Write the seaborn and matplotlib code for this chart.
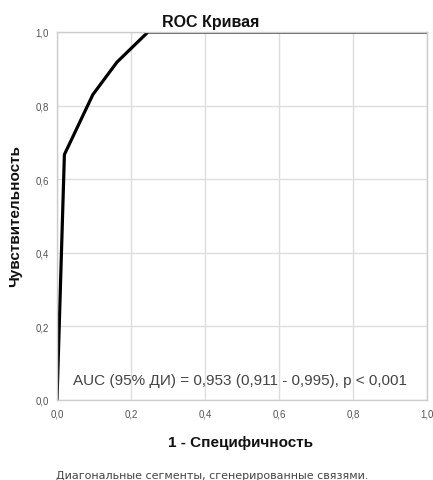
import matplotlib
matplotlib.use("Agg")
import matplotlib.pyplot as plt
import seaborn as sns
import pandas as pd

fpr = [0.0, 0.02, 0.097, 0.162, 0.246, 1.0]
tpr = [0.0, 0.667, 0.83, 0.918, 1.0, 1.0]
ticks = [0.0, 0.2, 0.4, 0.6, 0.8, 1.0]
tick_labels = ["0,0", "0,2", "0,4", "0,6", "0,8", "1,0"]
title = "ROC Кривая"
xlabel = "1 - Специфичность"
ylabel = "Чувствительность"
auc_text = "AUC (95% ДИ) = 0,953 (0,911 - 0,995), p < 0,001"
footnote = "Диагональные сегменты, сгенерированные связями."

sns.set_theme(style="white")
plt.rcParams['font.family'] = ['Liberation Sans', 'DejaVu Sans']

df = pd.DataFrame({"fpr": fpr, "tpr": tpr})

fig = plt.figure(figsize=(4.33, 4.81), dpi=100)
ax = fig.add_axes([57/433, 1-401/481, 370/433, 368/481])
sns.lineplot(data=df, x="fpr", y="tpr", ax=ax, color="black", linewidth=2.3,
             sort=False, estimator=None)
ax.set_xlim(0, 1)
ax.set_ylim(0, 1)
ax.set_xticks(ticks)
ax.set_yticks(ticks)
ax.set_xticklabels(tick_labels, fontsize=7, color="#555555")
ax.set_yticklabels(tick_labels, fontsize=7, color="#555555")
ax.tick_params(axis="x", length=0, pad=6)
ax.tick_params(axis="y", length=0, pad=6)
ax.grid(True, color="#dddddd", linewidth=1)
for s in ax.spines.values():
    s.set_color("#cccccc")
    s.set_linewidth(1)
ax.set_xlabel("")
ax.set_ylabel("")
fig.text(241/433, 1-443/481, xlabel, ha="center", va="center", fontsize=11,
         fontweight="bold", color="#111111")
fig.text(15/433, 1-216/481, ylabel, ha="center", va="center", fontsize=11,
         fontweight="bold", color="#111111", rotation=90)
fig.text(211/433, 1-22/481, title, ha="center", va="center", fontsize=11.5,
         fontweight="bold", color="#111111")
ax.text(0.495, 0.035, auc_text, transform=ax.transAxes, ha="center", va="bottom",
        fontsize=11, color="#444444")
fig.text(212/433, 1-476/481, footnote, ha="center", va="center", fontsize=8,
         color="#444444", family=["DejaVu Sans"])
fig.savefig("out.png", dpi=100)
